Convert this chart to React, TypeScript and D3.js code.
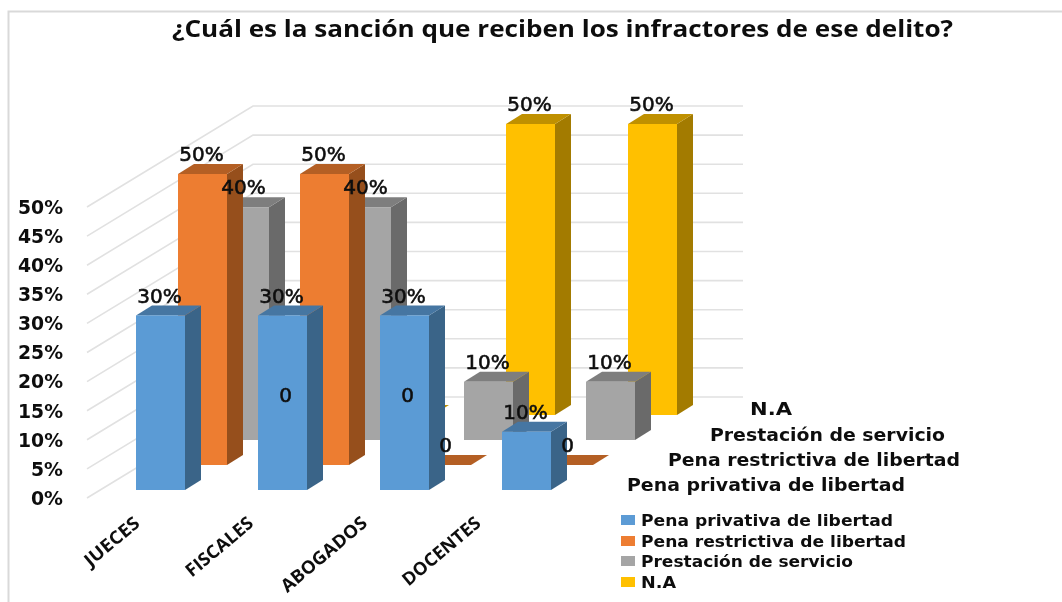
import React from "react";
import * as d3 from "d3";

const categories = ["JUECES", "FISCALES", "ABOGADOS", "DOCENTES"];
const seriesNames = ["Pena privativa de libertad", "Pena restrictiva de libertad", "Prestación de servicio", "N.A"];
const privativa = [30, 30, 30, 10];
const restrictiva = [50, 50, 0, 0];
const prestacion = [40, 40, 10, 10];
const na = [0, 0, 50, 50];
const seriesValues = [privativa, restrictiva, prestacion, na];
const zeroLabelSeries = [1, 3];
const yTicks = d3.range(0, 55, 5);

const frontColors = ["#5b9bd5", "#ed7d31", "#a5a5a5", "#ffc000"];
const topColors = ["#4676a2", "#b45f24", "#7e7e7e", "#bf9000"];
const sideColors = ["#3a6488", "#964f1c", "#6a6a6a", "#a37b00"];

const W = 1062, H = 602;
const barW = 49, depthX = 16, depthY = 10;
const font = "'DejaVu Sans', sans-serif";
const ink = "#111";

const xCat = d3.scalePoint<string>().domain(categories).range([136, 502]);
const xSeries = d3.scalePoint<string>().domain(seriesNames).range([0, 126]);
const baseY = d3.scalePoint<string>().domain(seriesNames).range([490, 415]);
const hScale = d3.scaleLinear().domain([0, 50]).range([0, 291]);
const xLabel = d3.scalePoint<string>().domain(categories).range([141, 482]);
const wallFrontX = 87, wallBackX = 253, wallRightX = 743;
const frontFloor = 498, backFloor = 397;

const depthLabels = [
  { x: 750, w: 42, y: 415 },
  { x: 710, w: 235, y: 441 },
  { x: 668, w: 292, y: 466 },
  { x: 627, w: 278, y: 491 },
];
const legendY = [520, 541, 561, 582];
const legendW = [252, 265, 212, 35];
const catLabelW = [66, 82, 106, 96];

const poly = (pts: number[][]) => pts.map((p) => p.join(",")).join(" ");

export default function App() {
  const order = [3, 2, 1, 0];
  return (
    <svg width={W} height={H} viewBox={`0 0 ${W} ${H}`} style={{ position: "absolute", left: 0, top: 0, background: "#fff" }}>
      <defs>
        <filter id="soft" x="-5%" y="-20%" width="110%" height="140%">
          <feGaussianBlur stdDeviation="0.45" />
        </filter>
      </defs>
      <path d={`M8.5 ${H}V11.5H${W}`} fill="none" stroke="#d9d9d9" strokeWidth={2} />

      <g stroke="#e1e1e1" strokeWidth={1.6} fill="none">
        {yTicks.map((t) => (
          <polyline
            key={t}
            points={poly([
              [wallFrontX, frontFloor - hScale(t)],
              [wallBackX, backFloor - hScale(t)],
              [wallRightX, backFloor - hScale(t)],
            ])}
          />
        ))}
      </g>

      {order.map((s) => (
        <g key={s}>
          {categories.map((c, i) => {
            const name = seriesNames[s];
            const x = (xCat(c) as number) + (xSeries(name) as number);
            const y0 = baseY(name) as number;
            const y1 = y0 - hScale(seriesValues[s][i]);
            return (
              <g key={c}>
                <polygon fill={sideColors[s]} points={poly([[x + barW, y1], [x + barW + depthX, y1 - depthY], [x + barW + depthX, y0 - depthY], [x + barW, y0]])} />
                <polygon fill={topColors[s]} points={poly([[x, y1], [x + depthX, y1 - depthY], [x + barW + depthX, y1 - depthY], [x + barW, y1]])} />
                <rect x={x} y={y1} width={barW} height={y0 - y1} fill={frontColors[s]} />
              </g>
            );
          })}
        </g>
      ))}

      <g filter="url(#soft)">
        <text x={562.5} y={37} textAnchor="middle" fontFamily="'Open Sans', sans-serif" fontWeight={700} fontSize={23} fill={ink} textLength={781} lengthAdjust="spacingAndGlyphs">
          ¿Cuál es la sanción que reciben los infractores de ese delito?
        </text>

        {yTicks.map((t) => (
          <text key={t} x={63} y={frontFloor - hScale(t)} dy="0.36em" textAnchor="end" fontFamily={font} fontWeight={700} fontSize={19} fill={ink} textLength={t < 10 ? 32 : 45} lengthAdjust="spacingAndGlyphs">
            {`${t}%`}
          </text>
        ))}

        {seriesValues.map((vals, s) =>
          categories.map((c, i) => {
            const v = vals[i];
            const name = seriesNames[s];
            if (v === 0 && !zeroLabelSeries.includes(s)) return null;
            const x = (xCat(c) as number) + (xSeries(name) as number) + barW / 2 - 1;
            const y = (baseY(name) as number) - hScale(v) - 20;
            return (
              <text key={`${s}-${c}`} x={x} y={y} dy="0.36em" textAnchor="middle" fontFamily={font} fontSize={20} fill={ink} stroke={ink} strokeWidth={0.6}>
                {v === 0 ? "0" : `${v}%`}
              </text>
            );
          })
        )}

        {categories.map((c, i) => (
          <text key={c} transform={`translate(${xLabel(c)},525) rotate(-40)`} textAnchor="end" fontFamily="'Open Sans', sans-serif" fontWeight={700} fontSize={18} fill={ink} textLength={catLabelW[i]} lengthAdjust="spacingAndGlyphs">
            {c}
          </text>
        ))}

        {seriesNames.map((n, s) => (
          <text key={n} x={depthLabels[3 - s].x} y={depthLabels[3 - s].y} fontFamily={font} fontWeight={700} fontSize={18} fill={ink} textLength={depthLabels[3 - s].w} lengthAdjust="spacingAndGlyphs">
            {n}
          </text>
        ))}

        {seriesNames.map((n, s) => (
          <g key={n}>
            <rect x={621} y={legendY[s] - 5} width={14} height={10} fill={frontColors[s]} />
            <text x={641} y={legendY[s] + 5.5} fontFamily={font} fontWeight={700} fontSize={16} fill={ink} textLength={legendW[s]} lengthAdjust="spacingAndGlyphs">
              {n}
            </text>
          </g>
        ))}
      </g>
    </svg>
  );
}
